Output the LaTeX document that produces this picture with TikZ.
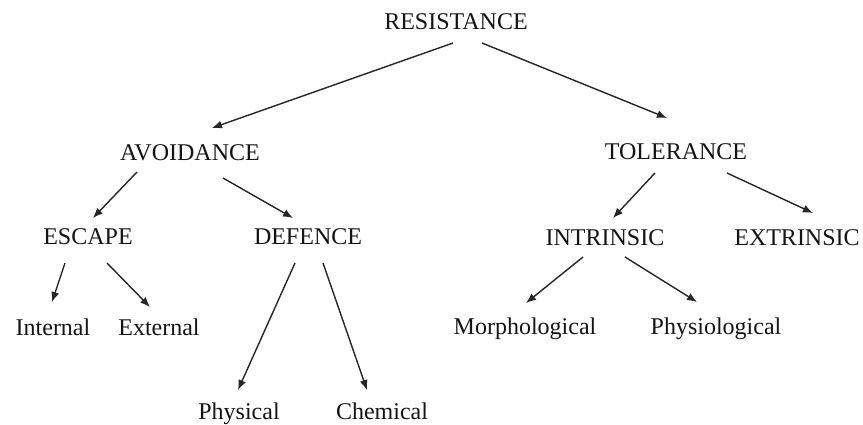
\documentclass[tikz,border=0pt]{standalone}
\usepackage{fontspec}
\setmainfont{Liberation Serif}
\usetikzlibrary{arrows.meta}
\begin{document}
\begin{tikzpicture}[x=1pt,y=-1pt,
  lbl/.style={inner sep=0pt,text height=16pt,text depth=5pt,font=\fontsize{24}{28}\selectfont,text=black!92},
  arr/.style={draw=black!85,line width=1.4pt,-{Latex[length=10pt,width=8pt]}}]
\useasboundingbox (0,0) rectangle (863,425);
% labels
\node[lbl] (res) at (456,24) {RESISTANCE};
\node[lbl] (avo) at (190,155) {AVOIDANCE};
\node[lbl] (tol) at (676,154) {TOLERANCE};
\node[lbl] (esc) at (88,239) {ESCAPE};
\node[lbl] (def) at (308,239) {DEFENCE};
\node[lbl] (intr) at (605,240) {INTRINSIC};
\node[lbl] (extr) at (797,240) {EXTRINSIC};
\node[lbl] (inte) at (53,330) {Internal};
\node[lbl] (exte) at (159,330) {External};
\node[lbl] (phys) at (239,414) {Physical};
\node[lbl] (chem) at (382,414) {Chemical};
\node[lbl] (morph) at (525,329) {Morphological};
\node[lbl] (physio) at (716,329) {Physiological};
% arrow anchor points
\coordinate (r1) at (453,43);   \coordinate (a0) at (212,128);
\coordinate (r2) at (482,43);   \coordinate (t0) at (667,118);
\coordinate (a1) at (137,172);  \coordinate (e0) at (93,218);
\coordinate (a2) at (223,178);  \coordinate (d0) at (293,218);
\coordinate (e1) at (65,263);   \coordinate (in0) at (52,302);
\coordinate (e2) at (107,263);  \coordinate (ex0) at (150,307);
\coordinate (d1) at (295,263);  \coordinate (p0) at (238,390);
\coordinate (d2) at (323,263);  \coordinate (c0) at (367,390);
\coordinate (t1) at (655,173);  \coordinate (i0) at (613,218);
\coordinate (t2) at (727,173);  \coordinate (x0) at (813,213);
\coordinate (i1) at (583,257);  \coordinate (m0) at (526,303);
\coordinate (i2) at (625,257);  \coordinate (ph0) at (697,302);
% arrows
\draw[arr] (r1) -- (a0);
\draw[arr] (r2) -- (t0);
\draw[arr] (a1) -- (e0);
\draw[arr] (a2) -- (d0);
\draw[arr] (e1) -- (in0);
\draw[arr] (e2) -- (ex0);
\draw[arr] (d1) -- (p0);
\draw[arr] (d2) -- (c0);
\draw[arr] (t1) -- (i0);
\draw[arr] (t2) -- (x0);
\draw[arr] (i1) -- (m0);
\draw[arr] (i2) -- (ph0);
\end{tikzpicture}
\end{document}
